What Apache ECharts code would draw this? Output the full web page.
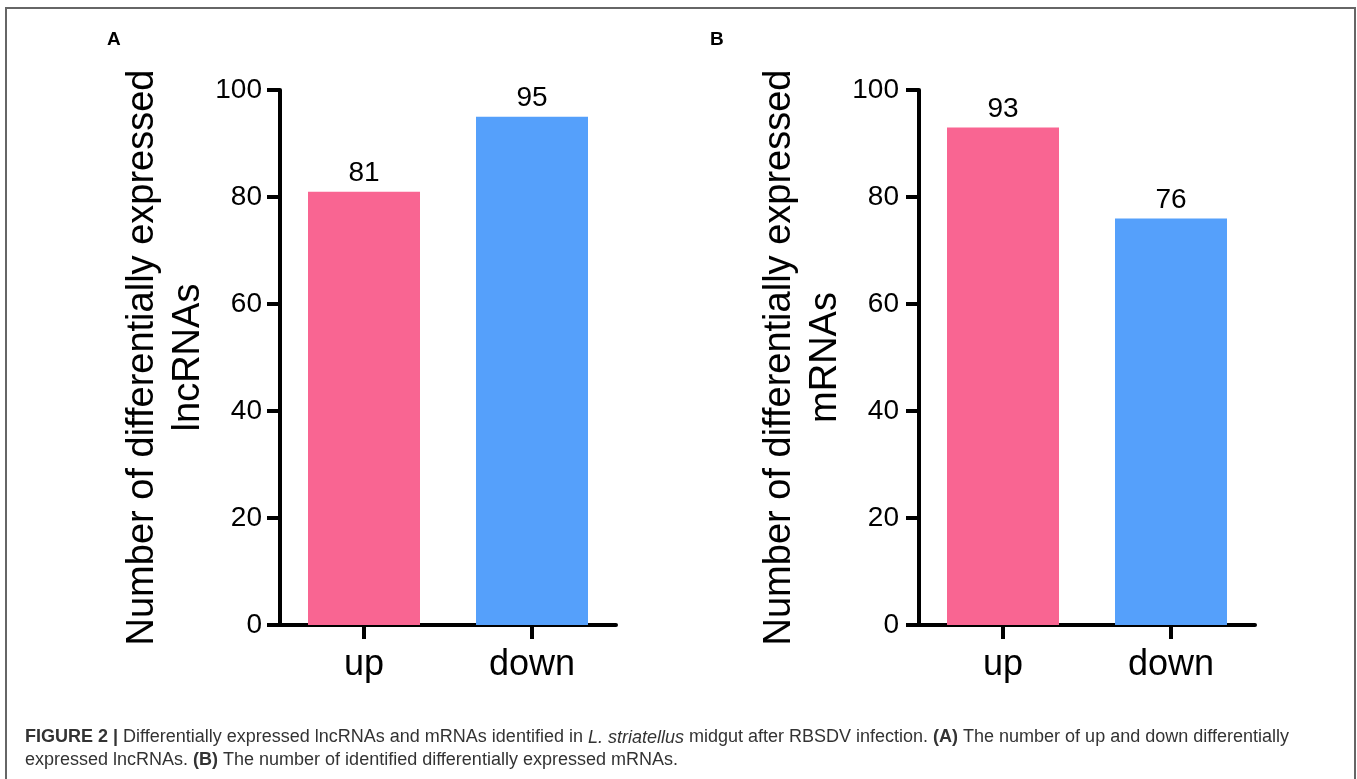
<!DOCTYPE html>
<html>
<head>
<meta charset="utf-8">
<script src="https://cdn.jsdelivr.net/npm/echarts@6/dist/echarts.min.js"></script>
<style>
html,body{margin:0;padding:0;background:#fff;}
#c{width:1357px;height:779px;}
</style>
</head>
<body>
<div id="c"></div>
<script>
const categories = ['up', 'down'];
const lncRNAValues = [81, 95];
const mRNAValues = [93, 76];
const yMin = 0, yMax = 100, yInterval = 20;
const barColors = ['#F96592', '#55A0FB'];

const FONT = '"Liberation Sans", Arial, Helvetica, sans-serif';

function yAxisCfg(grid, name, labelMargin) {
  return {
    type: 'value', gridIndex: grid, min: yMin, max: yMax, interval: yInterval,
    name: name, nameLocation: 'middle', nameRotate: 90, nameGap: 62,
    nameTextStyle: { fontSize: 38, lineHeight: 46, color: '#000', fontFamily: FONT },
    axisLine: { show: true, lineStyle: { color: '#000', width: 4 } },
    axisTick: { show: true, length: 13, lineStyle: { color: '#000', width: 4 } },
    axisLabel: { fontSize: 28, color: '#000', margin: labelMargin, fontFamily: FONT },
    splitLine: { show: false }
  };
}
function xAxisCfg(grid) {
  return {
    type: 'category', gridIndex: grid, data: categories,
    axisLine: { show: true, lineStyle: { color: '#000', width: 4 } },
    axisTick: { show: true, alignWithLabel: true, length: 14, lineStyle: { color: '#000', width: 4 } },
    axisLabel: { fontSize: 36, color: '#000', margin: 22, fontFamily: FONT }
  };
}
function barSeries(idx, values) {
  return {
    type: 'bar', xAxisIndex: idx, yAxisIndex: idx, data: values, barWidth: 112,
    itemStyle: { color: p => barColors[p.dataIndex] },
    label: { show: true, position: 'top', distance: 4, fontSize: 28, color: '#000', fontFamily: FONT }
  };
}

const chart = echarts.init(document.getElementById('c'), null, { renderer: 'canvas' });
chart.setOption({
  backgroundColor: '#fff',
  animation: false,
  grid: [
    { left: 280, top: 90, width: 336, height: 535 },
    { left: 919, top: 90, width: 336, height: 535 }
  ],
  xAxis: [xAxisCfg(0), xAxisCfg(1)],
  yAxis: [
    yAxisCfg(0, 'Number of differentially expressed\nlncRNAs', 18),
    yAxisCfg(1, 'Number of differentially expressed\nmRNAs', 20)
  ],
  series: [barSeries(0, lncRNAValues), barSeries(1, mRNAValues)],
  graphic: [
    { type: 'rect', shape: { x: 6, y: 8, width: 1349, height: 900 },
      style: { fill: 'none', stroke: '#666', lineWidth: 2 }, silent: true },
    { type: 'text', left: 107, top: 30,
      style: { text: 'A', font: 'bold 19px ' + FONT, fill: '#000' } },
    { type: 'text', left: 710, top: 30,
      style: { text: 'B', font: 'bold 19px ' + FONT, fill: '#000' } },
    { type: 'text', x: 25, y: 737.5,
      style: {
        text: '{b|FIGURE 2 |} Differentially expressed lncRNAs and mRNAs identified in {i|L. striatellus} midgut after RBSDV infection. {b|(A)} The number of up and down differentially',
        fontSize: 18, fontFamily: FONT, fill: '#333', verticalAlign: 'middle',
        rich: {
          b: { fontWeight: 'bold', fontSize: 18, fontFamily: FONT, fill: '#333' },
          i: { fontStyle: 'italic', fontSize: 18, fontFamily: FONT, fill: '#333' }
        }
      } },
    { type: 'text', x: 25, y: 760.5,
      style: {
        text: 'expressed lncRNAs. {b|(B)} The number of identified differentially expressed mRNAs.',
        fontSize: 18, fontFamily: FONT, fill: '#333', verticalAlign: 'middle',
        rich: {
          b: { fontWeight: 'bold', fontSize: 18, fontFamily: FONT, fill: '#333' }
        }
      } }
  ]
});
</script>
</body>
</html>
